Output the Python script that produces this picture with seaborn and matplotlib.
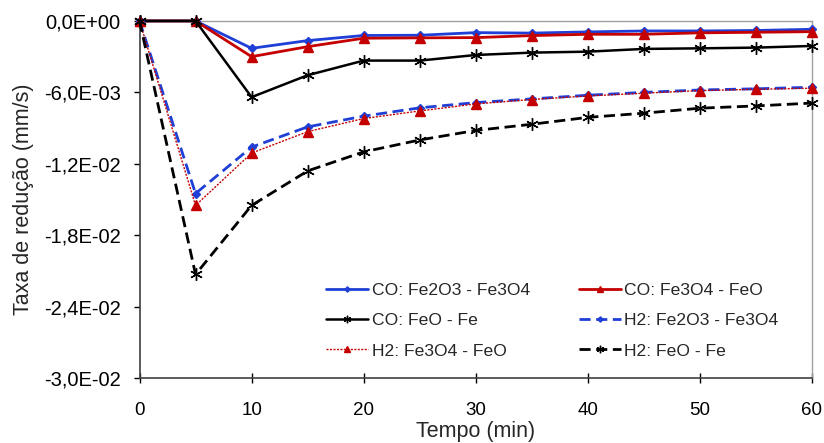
import numpy as np
import pandas as pd
import matplotlib
matplotlib.use("Agg")
import matplotlib.pyplot as plt
import seaborn as sns
from matplotlib.ticker import FuncFormatter

# =========================
# DATA
# =========================

tempo = [0, 5, 10, 15, 20, 25, 30, 35, 40, 45, 50, 55, 60]

co_fe2o3 = [0, 0, -2.3e-3, -1.65e-3, -1.22e-3, -1.2e-3, -0.98e-3, -1.02e-3,
            -0.92e-3, -0.84e-3, -0.84e-3, -0.8e-3, -0.7e-3]
co_fe3o4 = [0, 0, -3.0e-3, -2.16e-3, -1.45e-3, -1.42e-3, -1.4e-3, -1.23e-3,
            -1.12e-3, -1.12e-3, -1.0e-3, -0.95e-3, -0.9e-3]
co_feo = [0, 0, -6.4e-3, -4.56e-3, -3.33e-3, -3.33e-3, -2.86e-3, -2.66e-3,
          -2.58e-3, -2.35e-3, -2.3e-3, -2.24e-3, -2.1e-3]
h2_fe2o3 = [0, -14.5e-3, -10.6e-3, -8.9e-3, -8.0e-3, -7.3e-3, -6.86e-3, -6.55e-3,
            -6.24e-3, -6.0e-3, -5.8e-3, -5.7e-3, -5.57e-3]
h2_fe3o4 = [0, -15.5e-3, -11.1e-3, -9.3e-3, -8.2e-3, -7.56e-3, -6.97e-3, -6.6e-3,
            -6.3e-3, -6.07e-3, -5.85e-3, -5.74e-3, -5.65e-3]
h2_feo = [0, -21.3e-3, -15.5e-3, -12.6e-3, -11.0e-3, -10.0e-3, -9.2e-3, -8.68e-3,
          -8.1e-3, -7.75e-3, -7.33e-3, -7.14e-3, -6.9e-3]

labels = ["CO: Fe2O3 - Fe3O4", "CO: Fe3O4 - FeO", "CO: FeO - Fe",
          "H2: Fe2O3 - Fe3O4", "H2: Fe3O4 - FeO", "H2: FeO - Fe"]
series = [co_fe2o3, co_fe3o4, co_feo, h2_fe2o3, h2_fe3o4, h2_feo]

x_ticks = [0, 10, 20, 30, 40, 50, 60]
y_ticks = [0, -0.006, -0.012, -0.018, -0.024, -0.030]

# =========================
# STYLE
# =========================

sns.set_style("white")
plt.rcParams['font.family'] = ['Liberation Sans', 'DejaVu Sans']

blue = "#1f3fd6"
red = "#c40000"
asterisk = (6, 2, 0)

styles = [
    dict(color=blue, linestyle="-", linewidth=2, marker="D", markersize=4.5),
    dict(color=red, linestyle="-", linewidth=2, marker="^", markersize=6.5),
    dict(color="black", linestyle="-", linewidth=1.8, marker=asterisk, markersize=9),
    dict(color=blue, linestyle=(0, (4, 2)), linewidth=2, marker="D", markersize=4.5),
    dict(color=red, linestyle=(0, (1.5, 1)), linewidth=1, marker="^", markersize=6.5),
    dict(color="black", linestyle=(0, (4, 2)), linewidth=2, marker=asterisk,
         markersize=9),
]

# =========================
# PLOT
# =========================

fig = plt.figure(figsize=(8.24, 4.43), dpi=100)
ax = fig.add_axes([0.1693, 0.1467, 0.8161, 0.806])

for label, values, st in zip(labels, series, styles):
    df = pd.DataFrame({"tempo": tempo, "taxa": values})
    sns.lineplot(data=df, x="tempo", y="taxa", ax=ax, label=label,
                 clip_on=False, zorder=3, markeredgecolor=st["color"],
                 markerfacecolor=st["color"], markeredgewidth=1, **st)

ax.set_xlim(0, 60)
ax.set_ylim(-0.03, 0)
ax.set_xticks(x_ticks)
ax.set_yticks(y_ticks)
ax.yaxis.set_major_formatter(
    FuncFormatter(lambda v, p: f"{v:.1E}".replace(".", ",").replace("-0,0", "0,0")))

ax.tick_params(axis="x", direction="inout", length=7, width=1, labelsize=13.5,
               pad=14, colors="black")
ax.tick_params(axis="y", direction="out", length=4.5, width=1, labelsize=14.5,
               pad=9, colors="black")
ax.tick_params(left=True, bottom=True)

for side in ["left", "bottom"]:
    ax.spines[side].set_color("#404040")
    ax.spines[side].set_linewidth(1.2)
for side in ["top", "right"]:
    ax.spines[side].set_color("#a0a0a0")
    ax.spines[side].set_linewidth(1)

ax.set_xlabel("Tempo (min)", fontsize=15.5, va="center")
ax.set_ylabel("Taxa de redução (mm/s)", fontsize=15.5, va="center")
ax.xaxis.set_label_coords(0.5, -53 / 357)
ax.yaxis.set_label_coords(-(139.5 - 24) / 672, 0.5)

handles, names = ax.get_legend_handles_labels()
order = [0, 2, 4, 1, 3, 5]
ax.legend([handles[i] for i in order], [names[i] for i in order],
          loc="upper left", bbox_to_anchor=(326 / 824, 1 - 283 / 443),
          bbox_transform=fig.transFigure, ncol=2, frameon=False,
          fontsize=12.6, handlelength=2.4, handletextpad=0.2, columnspacing=2.8,
          labelspacing=0.85, borderpad=0, borderaxespad=0, markerscale=0.6)

fig.savefig("out.png", dpi=100)
